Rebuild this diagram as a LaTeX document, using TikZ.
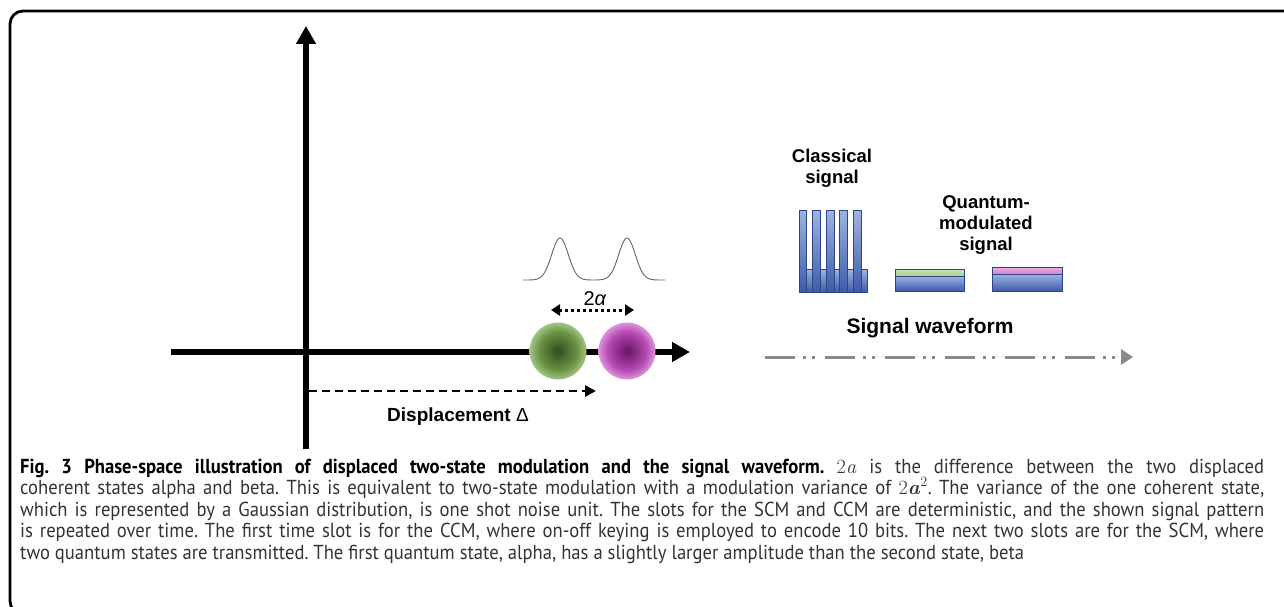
\documentclass[tikz,border=0pt]{standalone}
\usepackage{fontspec}
\usetikzlibrary{arrows.meta}
\newfontfamily\lab{Liberation Sans}
\newfontfamily\capf[FakeStretch=0.92]{PT Sans}
\definecolor{barlight}{HTML}{9FB3E3}
\definecolor{bardark}{HTML}{3D5BA9}
\definecolor{bardraw}{HTML}{2B4585}
\definecolor{gcen}{HTML}{3A531F}
\definecolor{gmid}{HTML}{6B9444}
\definecolor{gedge}{HTML}{A2C584}
\definecolor{mcen}{HTML}{6E1A6E}
\definecolor{mmid}{HTML}{B54AB3}
\definecolor{medge}{HTML}{DE95DB}
\definecolor{wavegray}{HTML}{8A8A8A}
\definecolor{captext}{HTML}{333333}
\definecolor{gstripe}{HTML}{A9D48A}
\definecolor{mstripe}{HTML}{D97FD2}
\pgfdeclareradialshading{gball}{\pgfpoint{0bp}{0bp}}{color(0bp)=(gcen); color(2bp)=(gcen); color(17bp)=(gmid); color(25bp)=(gedge); color(50bp)=(gedge)}
\pgfdeclareradialshading{mball}{\pgfpoint{0bp}{0bp}}{color(0bp)=(mcen); color(2bp)=(mcen); color(17bp)=(mmid); color(25bp)=(medge); color(50bp)=(medge)}
\tikzset{
  axis/.style={line width=6pt, -{Triangle[length=18pt,width=19pt]}},
  bar/.style={draw=bardraw, line width=0.8pt, top color=barlight, bottom color=bardark},
  lbl/.style={inner sep=0pt, font=\lab\bfseries},
  capline/.style={inner sep=0pt, anchor=base west},
}
\newlength\capw
\begin{document}
\settowidth\capw{\capf\fontsize{10pt}{12pt}\selectfont\frenchspacing two quantum states are transmitted. The first quantum state, alpha, has a slightly larger amplitude than the second state, beta}
\pgfmathsetmacro\capsz{10*1004/\capw}
\begin{tikzpicture}[x=1pt,y=-1pt]
\useasboundingbox (0,0) rectangle (1284,607);
% frame
\draw[line width=2.8pt, rounded corners=13pt] (1290,11) -- (10,11) -- (10,614) -- (30,614);
% axes
\coordinate (xl) at (171,352);
\coordinate (xr) at (690,352);
\coordinate (yb) at (306,449);
\coordinate (yt) at (306,26);
\draw[axis] (xl) -- (xr);
\draw[line width=6pt] (yb) -- (306,40);
\draw[axis] (306,60) -- (yt);
% coherent states
\shade[shading=gball] (558,351) circle (28.5pt);
\shade[shading=mball] (627,351) circle (28.5pt);
% gaussians
\draw[gray!80!black, line width=0.9pt, smooth, samples=120, domain=523:665]
  plot (\x, {280-42*(exp(-((\x-560)^2)/(2*8.3*8.3))+exp(-((\x-627)^2)/(2*8.3*8.3)))});
% 2alpha arrow
\coordinate (al) at (551,310);
\coordinate (ar) at (634,310);
\draw[line width=3pt, dash pattern=on 3pt off 3pt, {Triangle[length=9pt,width=11pt]}-{Triangle[length=9pt,width=11pt]}] (al) -- (ar);
\node[inner sep=0pt, anchor=base, font=\lab\fontsize{20}{24}\selectfont] (twoalpha) at (595,305) {2\textit{α}};
% displacement
\coordinate (ds) at (309,391);
\coordinate (de) at (596,391);
\draw[line width=2.6pt, dash pattern=on 8pt off 5pt, -{Triangle[length=11pt,width=11pt]}] (ds) -- (de);
\node[lbl, anchor=base, font=\lab\bfseries\fontsize{19}{22}\selectfont] (disp) at (458,421) {Displacement {\mdseries Δ}};
% classical signal bars
\foreach \i in {0,...,4} {
  \draw[bar] ({806.4+13.6*\i},269) rectangle ({813.4+13.6*\i},292);
}
\foreach \i in {0,...,4} {
  \draw[bar] ({799+13.6*\i},210) rectangle ({806.8+13.6*\i},292);
}
\node[lbl, anchor=north, align=center, font=\lab\bfseries\fontsize{18.5}{21}\selectfont] (classical) at (832,149) {Classical\\signal};
% quantum-modulated signal
\draw[draw=bardraw, line width=0.8pt, top color=gstripe!60!white, bottom color=gstripe] (895,269) rectangle (964,276);
\draw[bar] (895,276) rectangle (964,291);
\draw[draw=bardraw, line width=0.8pt, top color=mstripe!60!white, bottom color=mstripe] (992,267) rectangle (1062,274);
\draw[bar] (992,274) rectangle (1062,291);
\node[lbl, anchor=north, align=center, font=\lab\bfseries\fontsize{18.5}{21}\selectfont] (quantum) at (986,195) {Quantum-\\modulated\\signal};
% signal waveform
\node[lbl, anchor=base, font=\lab\bfseries\fontsize{21}{24}\selectfont] (wave) at (930,333) {Signal waveform};
\coordinate (ws) at (765,357);
\coordinate (we) at (1133,357);
\draw[wavegray, line width=3pt, dash pattern=on 30pt off 8pt on 3pt off 6pt on 3pt off 10pt, -{Triangle[length=12pt,width=15pt]}] (ws) -- (we);
% caption
\begin{scope}[every node/.append style={capline, font=\capf\fontsize{\capsz}{21}\selectfont\frenchspacing\color{captext}}]
\node (cap1) at (20,473) {\makebox[1244pt][s]{\color{black}\bfseries Fig. 3 Phase-space illustration of displaced two-state modulation and the signal waveform. \color{captext}\mdseries{\rmfamily 2\textit{a}} is the difference between the two displaced}};
\node (cap2) at (20,494.5) {\makebox[1244pt][s]{coherent states alpha and beta. This is equivalent to two-state modulation with a modulation variance of {\rmfamily 2\textbf{\textit{a}}\textsuperscript{2}}. The variance of the one coherent state,}};
\node (cap3) at (20,516) {\makebox[1244pt][s]{which is represented by a Gaussian distribution, is one shot noise unit. The slots for the SCM and CCM are deterministic, and the shown signal pattern}};
\node (cap4) at (20,537.5) {\makebox[1244pt][s]{is repeated over time. The first time slot is for the CCM, where on-off keying is employed to encode 10 bits. The next two slots are for the SCM, where}};
\node (cap5) at (20,559) {two quantum states are transmitted. The first quantum state, alpha, has a slightly larger amplitude than the second state, beta};
\end{scope}
\end{tikzpicture}
\end{document}
